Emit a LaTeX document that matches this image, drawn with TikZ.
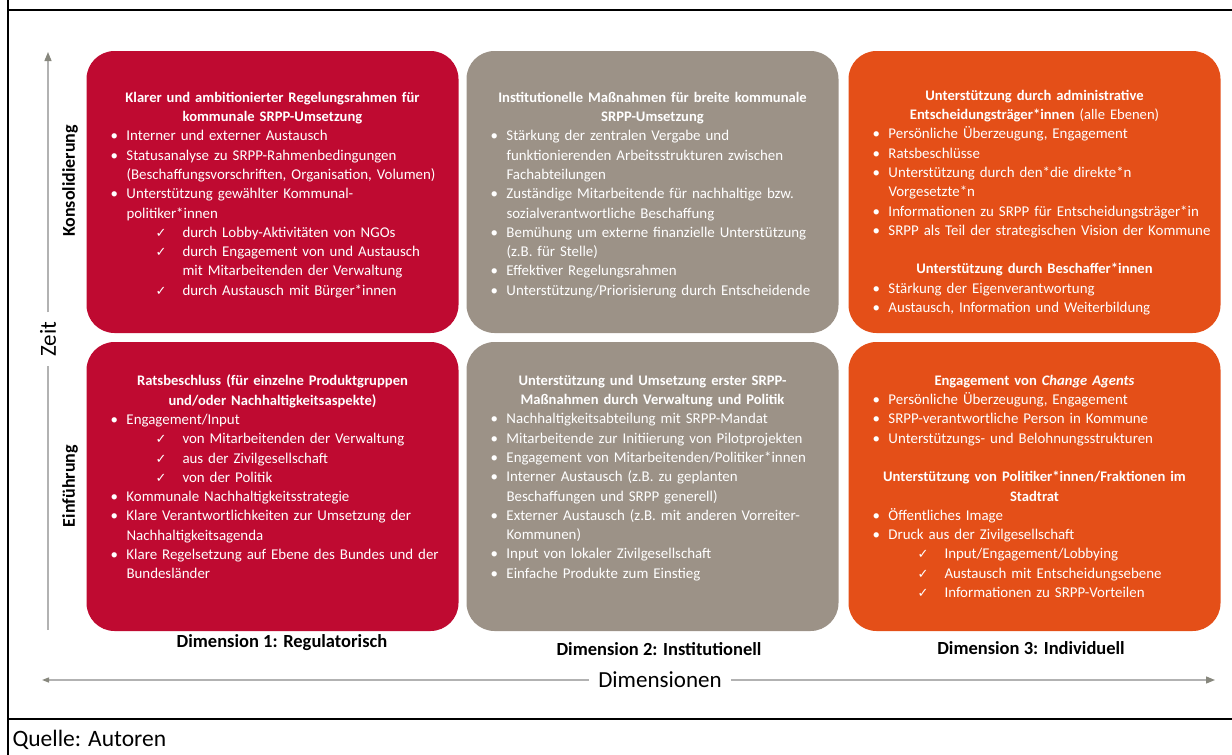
\documentclass[tikz,border=0pt]{standalone}
\usepackage{fontspec}
\setmainfont{Carlito}
\newfontfamily\symfont{DejaVu Sans}
\usepackage{tikz}
\usetikzlibrary{arrows.meta,positioning}
\definecolor{regred}{RGB}{191,10,49}
\definecolor{instgrey}{RGB}{156,146,135}
\definecolor{indorange}{RGB}{228,79,24}
\definecolor{axisgrey}{RGB}{178,178,178}
\definecolor{tipgrey}{RGB}{135,135,125}
\newcommand\boxtitle[1]{{\centering\bfseries\fontsize{14.6}{19.3}\selectfont #1\par}}
\newcommand\bitem[1]{\par\noindent\hangindent=40pt\hangafter=1\hspace*{24pt}\makebox[16pt][l]{\textbullet}#1}
\newcommand\citem[1]{\par\noindent\hangindent=96pt\hangafter=1\hspace*{69pt}\makebox[27pt][l]{\symfont\fontsize{13}{15}\selectfont ✓}#1}
\newcommand\gap{\par\vspace{\baselineskip}}
\tikzset
{
    dimbox/.style    = {rectangle, rounded corners=28pt, minimum width=372pt, inner sep=0pt},
    toprow/.style    = {dimbox, minimum height=282pt},
    lowrow/.style    = {dimbox, minimum height=289pt},
    boxtext/.style   = {anchor=north, text width=372pt, align=left, inner sep=0pt, text=white, font=\fontsize{14.9}{19.3}\selectfont},
    dimlabel/.style  = {font=\bfseries\fontsize{18.5}{22}\selectfont},
    phase/.style     = {rotate=90, font=\bfseries\fontsize{18}{22}\selectfont},
    axistext/.style  = {inner sep=9pt, font=\fontsize{23}{27}\selectfont},
    axisline/.style  = {draw=axisgrey, line width=1.3pt},
    frameline/.style = {line width=2.4pt}
}
\begin{document}
\begin{tikzpicture}[x=1pt, y=-1pt]
	\useasboundingbox (0,0) rectangle (1232,755);
	\draw[frameline] (8,0) -- (8,755);
	\draw[frameline] (8,10) -- (1232,10);
	\draw[frameline] (8,719) -- (1232,719);
	\node[toprow, fill=regred]    (reg2)  at (272.5,192) {};
	\node[toprow, fill=instgrey]  (inst2) at (652.5,192) {};
	\node[toprow, fill=indorange] (ind2)  at (1034.5,192) {};
	\node[lowrow, fill=regred]    (reg1)  at (272.5,486.5) {};
	\node[lowrow, fill=instgrey]  (inst1) at (652.5,486.5) {};
	\node[lowrow, fill=indorange] (ind1)  at (1034.5,486.5) {};
	\node[boxtext] (reg2text) at ([yshift=-41pt]reg2.north) {
		\boxtitle{Klarer und ambitionierter Regelungsrahmen für\\kommunale SRPP-Umsetzung}
		\bitem{Interner und externer Austausch}
		\bitem{Statusanalyse zu SRPP-Rahmenbedingungen\newline(Beschaffungsvorschriften, Organisation, Volumen)}
		\bitem{Unterstützung gewählter Kommunal-\newline politiker*innen}
		\citem{durch Lobby-Aktivitäten von NGOs}
		\citem{durch Engagement von und Austausch\newline mit Mitarbeitenden der Verwaltung}
		\citem{durch Austausch mit Bürger*innen}\par
	};
	\node[boxtext] (inst2text) at ([yshift=-41pt]inst2.north) {
		\boxtitle{Institutionelle Maßnahmen für breite kommunale\\SRPP-Umsetzung}
		\bitem{Stärkung der zentralen Vergabe und\newline funktionierenden Arbeitsstrukturen zwischen\newline Fachabteilungen}
		\bitem{Zuständige Mitarbeitende für nachhaltige bzw.\newline sozialverantwortliche Beschaffung}
		\bitem{Bemühung um externe finanzielle Unterstützung\newline(z.B. für Stelle)}
		\bitem{Effektiver Regelungsrahmen}
		\bitem{Unterstützung/Priorisierung durch Entscheidende}\par
	};
	\node[boxtext] (ind2text) at ([yshift=-39pt]ind2.north) {
		\boxtitle{Unterstützung durch administrative\\Entscheidungsträger*innen {\mdseries(alle Ebenen)}}
		\bitem{Persönliche Überzeugung, Engagement}
		\bitem{Ratsbeschlüsse}
		\bitem{Unterstützung durch den*die direkte*n\newline Vorgesetzte*n}
		\bitem{Informationen zu SRPP für Entscheidungsträger*in}
		\bitem{SRPP als Teil der strategischen Vision der Kommune}
		\gap
		\boxtitle{Unterstützung durch Beschaffer*innen}
		\bitem{Stärkung der Eigenverantwortung}
		\bitem{Austausch, Information und Weiterbildung}\par
	};
	\node[boxtext] (reg1text) at ([yshift=-33pt]reg1.north) {
		\boxtitle{Ratsbeschluss (für einzelne Produktgruppen\\und/oder Nachhaltigkeitsaspekte)}
		\bitem{Engagement/Input}
		\citem{von Mitarbeitenden der Verwaltung}
		\citem{aus der Zivilgesellschaft}
		\citem{von der Politik}
		\bitem{Kommunale Nachhaltigkeitsstrategie}
		\bitem{Klare Verantwortlichkeiten zur Umsetzung der\newline Nachhaltigkeitsagenda}
		\bitem{Klare Regelsetzung auf Ebene des Bundes und der\newline Bundesländer}\par
	};
	\node[boxtext] (inst1text) at ([yshift=-33pt]inst1.north) {
		\boxtitle{Unterstützung und Umsetzung erster SRPP-\\Maßnahmen durch Verwaltung und Politik}
		\bitem{Nachhaltigkeitsabteilung mit SRPP-Mandat}
		\bitem{Mitarbeitende zur Initiierung von Pilotprojekten}
		\bitem{Engagement von Mitarbeitenden/Politiker*innen}
		\bitem{Interner Austausch (z.B. zu geplanten\newline Beschaffungen und SRPP generell)}
		\bitem{Externer Austausch (z.B. mit anderen Vorreiter-\newline Kommunen)}
		\bitem{Input von lokaler Zivilgesellschaft}
		\bitem{Einfache Produkte zum Einstieg}\par
	};
	\node[boxtext] (ind1text) at ([yshift=-33pt]ind1.north) {
		\boxtitle{Engagement von \textit{Change Agents}}
		\bitem{Persönliche Überzeugung, Engagement}
		\bitem{SRPP-verantwortliche Person in Kommune}
		\bitem{Unterstützungs- und Belohnungsstrukturen}
		\gap
		\boxtitle{Unterstützung von Politiker*innen/Fraktionen im\\Stadtrat}
		\bitem{Öffentliches Image}
		\bitem{Druck aus der Zivilgesellschaft}
		\citem{Input/Engagement/Lobbying}
		\citem{Austausch mit Entscheidungsebene}
		\citem{Informationen zu SRPP-Vorteilen}\par
	};
	\node[dimlabel] (dim1) at (282,643) {Dimension 1: Regulatorisch};
	\node[dimlabel] (dim2) at (659,649) {Dimension 2: Institutionell};
	\node[dimlabel] (dim3) at (1031,648) {Dimension 3: Individuell};
	\node[phase] (konsol) at (70,181) {Konsolidierung};
	\node[phase] (einf)   at (70,486) {Einführung};
	\coordinate (zeitlo) at (48,630);
	\coordinate (zeithi) at (48,52);
	\node[axistext, rotate=90] (zeit) at (48,339) {Zeit};
	\draw[axisline] (zeitlo) -- (zeit);
	\draw[axisline, -{Triangle[length=9pt, width=7pt, color=tipgrey]}] (zeit) -- (zeithi);
	\coordinate (dimlo) at (42,680);
	\coordinate (dimhi) at (1215,680);
	\node[axistext] (dimen) at (660,680) {Dimensionen};
	\draw[axisline, -{Triangle[length=7pt, width=5pt, color=tipgrey]}] (dimen) -- (dimlo);
	\draw[axisline, -{Triangle[length=9pt, width=7pt, color=tipgrey]}] (dimen) -- (dimhi);
	\node[anchor=west, font=\fontsize{23.5}{27}\selectfont] (quelle) at (9,740) {Quelle: Autoren};
\end{tikzpicture}
\end{document}
